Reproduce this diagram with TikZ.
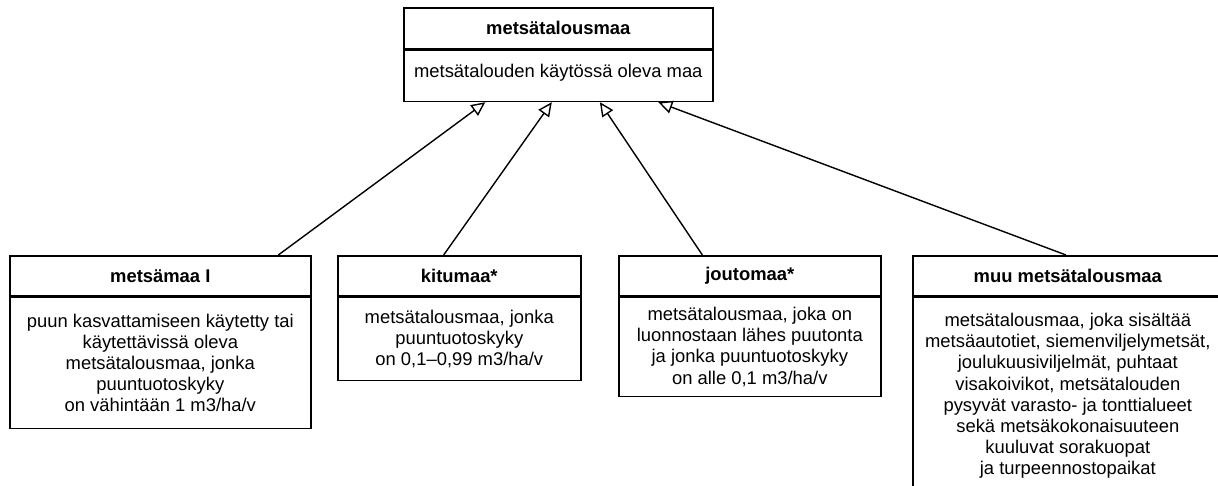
\documentclass[tikz,border=0pt]{standalone}
\usepackage{fontspec}
\setmainfont{Liberation Sans}
\usetikzlibrary{arrows.meta,calc}
\begin{document}
\begin{tikzpicture}[x=0.5pt,y=-0.5pt,
  every node/.style={font=\fontsize{9.2}{10.6}\selectfont},
  box/.style={draw=black, line width=0.8pt, anchor=north west, inner sep=2pt, align=center},
  ttl/.style={box, minimum height=20pt, font=\fontsize{9.2}{10.6}\selectfont\bfseries},
  gen/.style={draw=black, line width=0.7pt, -{Triangle[open, length=7pt, width=6.5pt, line width=0.7pt]}}
]
\clip (0,0) rectangle (1218,486);
\fill[white] (0,0) rectangle (1218,486);
% top class
\node[ttl, minimum width=154.5pt, minimum height=20.5pt] (t0) at (403,7) {metsätalousmaa};
\node[box, minimum width=154.5pt, minimum height=25.5pt, text depth=5pt] (b0) at (t0.south west) {metsätalouden käytössä oleva maa};
% child 1
\node[ttl, minimum width=150.5pt] (t1) at (9,255) {metsämaa I};
\node[box, minimum width=150.5pt, minimum height=65.5pt] (b1) at (t1.south west) {puun kasvattamiseen käytetty tai\\käytettävissä oleva\\metsätalousmaa, jonka\\puuntuotoskyky\\on vähintään 1 m3/ha/v};
% child 2
\node[ttl, minimum width=121.5pt] (t2) at (337,255) {kitumaa*};
\node[box, minimum width=121.5pt, minimum height=41.5pt] (b2) at (t2.south west) {metsätalousmaa, jonka\\puuntuotoskyky\\on 0,1–0,99 m3/ha/v};
% child 3
\node[ttl, minimum width=131pt] (t3) at (618,255) {joutomaa*};
\node[box, minimum width=131pt, minimum height=49.5pt] (b3) at (t3.south west) {metsätalousmaa, joka on\\luonnostaan lähes puutonta\\ja jonka puuntuotoskyky\\on alle 0,1 m3/ha/v};
% child 4
\node[ttl, minimum width=155pt] (t4) at (912,255) {muu metsätalousmaa};
\node[box, minimum width=155pt, minimum height=98.5pt] (b4) at (t4.south west) {metsätalousmaa, joka sisältää\\metsäautotiet, siemenviljelymetsät,\\joulukuusiviljelmät, puhtaat\\visakoivikot, metsätalouden\\pysyvät varasto- ja tonttialueet\\sekä metsäkokonaisuuteen\\kuuluvat sorakuopat\\ja turpeennostopaikat};
% generalisation arrows
\draw[gen] ($(t1.north west)!0.89!(t1.north east)$) -- ($(b0.south west)!0.265!(b0.south east)$);
\draw[gen] ($(t2.north west)!0.436!(t2.north east)$) -- ($(b0.south west)!0.479!(b0.south east)$);
\draw[gen] ($(t3.north west)!0.32!(t3.north east)$) -- ($(b0.south west)!0.634!(b0.south east)$);
\draw[gen] ($(t4.north west)!0.494!(t4.north east)$) -- ($(b0.south west)!0.822!(b0.south east)$);
\end{tikzpicture}
\end{document}
